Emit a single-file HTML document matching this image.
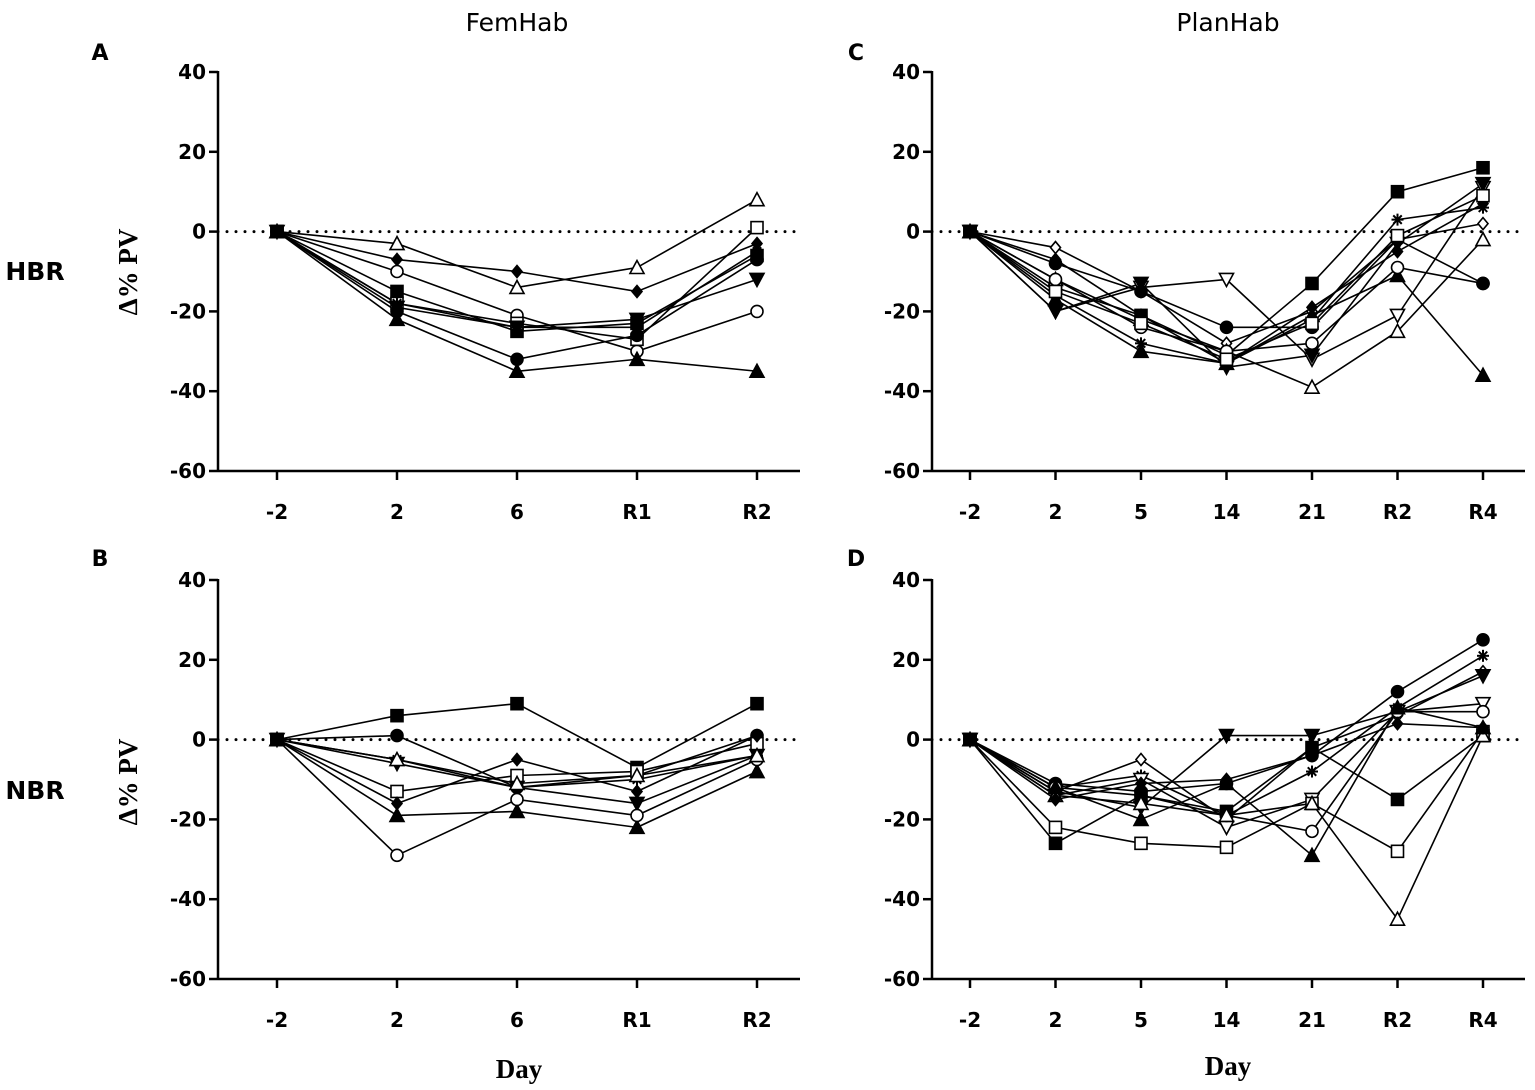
<!DOCTYPE html>
<html><head><meta charset="utf-8">
<style>
html,body{margin:0;padding:0;background:#fff;}
svg{display:block;}
.tick{font-family:"DejaVu Sans","Liberation Sans",sans-serif;font-weight:bold;font-size:20px;fill:#000;}
.ttl{font-family:"DejaVu Sans","Liberation Sans",sans-serif;font-size:25px;fill:#000;}
.lbl{font-family:"DejaVu Sans","Liberation Sans",sans-serif;font-weight:bold;font-size:22px;fill:#000;}
.axt{font-family:"Liberation Serif",serif;font-weight:bold;font-size:27px;fill:#000;}
</style></head>
<body>
<svg id="c" width="1535" height="1090" xmlns="http://www.w3.org/2000/svg">
<text class="ttl" x="517" y="31" text-anchor="middle">FemHab</text>
<text class="ttl" x="1228" y="31" text-anchor="middle">PlanHab</text>
<text class="lbl" x="100" y="60" text-anchor="middle">A</text>
<text class="lbl" x="100" y="566" text-anchor="middle">B</text>
<text class="lbl" x="856" y="60" text-anchor="middle">C</text>
<text class="lbl" x="856" y="566" text-anchor="middle">D</text>
<text class="ttl" x="35" y="280" text-anchor="middle" font-weight="bold">HBR</text>
<text class="ttl" x="35" y="799" text-anchor="middle" font-weight="bold">NBR</text>
<text class="axt" transform="translate(137,272) rotate(-90)" text-anchor="middle">Δ% PV</text>
<text class="axt" transform="translate(137,782) rotate(-90)" text-anchor="middle">Δ% PV</text>
<text class="axt" x="519" y="1078" text-anchor="middle">Day</text>
<text class="axt" x="1228" y="1075" text-anchor="middle">Day</text>
</svg>
<script>
const yTicks=[40,20,0,-20,-40,-60];
const femDays=["-2","2","6","R1","R2"];
const planDays=["-2","2","5","14","21","R2","R4"];
const markersA=["otri","fdia","ocir","fsq","osq","fcir","ftri","fdtri","star"];
const valsA=[
[0,-3,-14,-9,8],[0,-7,-10,-15,-3],[0,-10,-21,-30,-20],[0,-15,-25,-23,-6],[0,-18,-23,-27,1],
[0,-20,-32,-26,-7],[0,-22,-35,-32,-35],[0,-19,-24,-22,-12],[0,-18,-24,-24,-5]];
const markersB=["fsq","fcir","star","fdtri","osq","fdia","ftri","ocir","otri"];
const valsB=[
[0,6,9,-7,9],[0,1,-12,-9,1],[0,-5,-12,-10,-4],[0,-6,-12,-16,-4],[0,-13,-9,-8,-1],
[0,-16,-5,-13,1],[0,-19,-18,-22,-8],[0,-29,-15,-19,-5],[0,-5,-11,-9,-4]];
const markersC=["fsq","star","odia","otri","odtri","ftri","ocir","fcir","fdtri","fdia","osq"];
const valsC=[
[0,-14,-21,-31,-13,10,16],[0,-16,-28,-33,-22,3,6],[0,-4,-15,-28,-20,-2,2],[0,-12,-22,-30,-39,-25,-2],
[0,-20,-14,-12,-32,-21,11],[0,-17,-30,-33,-21,-11,-36],[0,-12,-24,-30,-28,-9,-13],[0,-8,-15,-24,-24,-2,-13],
[0,-20,-13,-34,-31,-3,12],[0,-7,-21,-33,-19,-5,7],[0,-15,-23,-32,-23,-1,9]];
const markersD=["fcir","star","odia","fdtri","odtri","ocir","fsq","osq","otri","ftri","fdia"];
const valsD=[
[0,-11,-13,-11,-4,12,25],[0,-12,-9,-19,-8,8,21],[0,-13,-5,-20,-2,6,17],[0,-13,-17,1,1,7,16],
[0,-14,-10,-22,-15,7,9],[0,-12,-14,-19,-23,7,7],[0,-26,-14,-18,-2,-15,1],[0,-22,-26,-27,-16,-28,2],
[0,-14,-16,-19,-16,-45,1],[0,-12,-20,-11,-29,8,3],[0,-15,-11,-10,-4,4,3]];

const svg=document.getElementById('c');
const NS="http://www.w3.org/2000/svg";
function mk(tag,at,parent){const e=document.createElementNS(NS,tag);for(const k in at)e.setAttribute(k,at[k]);(parent||svg).appendChild(e);return e;}

function panel(name,ax,top,xFirst,xStep,xEnd,cats,vals,marks){
  const bottom=top+399;
  const y=v=>top+(40-v)*(399/100);
  const x=i=>xFirst+i*xStep;
  const g=mk('g',{});
  
  
  const zl=mk('line',{x1:ax,x2:xEnd,y1:y(0),y2:y(0),stroke:'#000','stroke-width':3,'stroke-dasharray':'0 9','stroke-linecap':'round'},g);
  
  
  const ya=mk('line',{x1:ax,x2:ax,y1:top-1,y2:bottom+1,stroke:'#000','stroke-width':2.5},g);
  
  
  const xa=mk('line',{x1:ax,x2:xEnd,y1:bottom,y2:bottom,stroke:'#000','stroke-width':2.5},g);
  
  
  yTicks.forEach(t=>{
    mk('line',{x1:ax-9,x2:ax,y1:y(t),y2:y(t),stroke:'#000','stroke-width':2.5},g);
    const tx=mk('text',{x:ax-12,y:y(t)+7,'text-anchor':'end',class:'tick'},g);
    tx.textContent=t;
    
    
  });
  cats.forEach((c,i)=>{
    mk('line',{x1:x(i),x2:x(i),y1:bottom,y2:bottom+9,stroke:'#000','stroke-width':2.5},g);
    const tx=mk('text',{x:x(i),y:bottom+48,'text-anchor':'middle',class:'tick'},g);
    tx.textContent=c;
    
    
  });
  vals.forEach((s,si)=>{
    const pts=s.map((v,i)=>x(i)+','+y(v)).join(' ');
    const pl=mk('polyline',{points:pts,fill:'none',stroke:'#000','stroke-width':1.6},g);
    
    
  });
  vals.forEach((s,si)=>{
    s.forEach((v,i)=>{
      const m=marker(marks[si],x(i),y(v),g);
      
      
    });
  });
  const b=marker('fsq',x(0),y(vals[0][0]),g);
  
  
}
function marker(t,cx,cy,g){
  const r=6,fill=t[0]==='f'?'#000':'#fff',sw=1.6;
  const k=t.slice(1);
  if(t==='star'){
    const e=mk('g',{},g);
    for(let a=0;a<180;a+=45){const rad=a*Math.PI/180;mk('line',{x1:cx-6*Math.cos(rad),y1:cy-6*Math.sin(rad),x2:cx+6*Math.cos(rad),y2:cy+6*Math.sin(rad),stroke:'#000','stroke-width':2},e);}
    return e;
  }
  if(k==='sq')return mk('rect',{x:cx-r,y:cy-r,width:2*r,height:2*r,fill,stroke:'#000','stroke-width':sw},g);
  if(k==='cir')return mk('circle',{cx,cy,r:r,fill,stroke:'#000','stroke-width':sw},g);
  if(k==='tri')return mk('polygon',{points:`${cx},${cy-7} ${cx-7},${cy+6} ${cx+7},${cy+6}`,fill,stroke:'#000','stroke-width':sw},g);
  if(k==='dtri')return mk('polygon',{points:`${cx},${cy+7} ${cx-7},${cy-6} ${cx+7},${cy-6}`,fill,stroke:'#000','stroke-width':sw},g);
  return mk('polygon',{points:`${cx},${cy-6} ${cx+5},${cy} ${cx},${cy+6} ${cx-5},${cy}`,fill,stroke:'#000','stroke-width':sw},g);
}
panel('panel-a-femhab-hbr',218,72,277,120,800,femDays,valsA,markersA);
panel('panel-b-femhab-nbr',218,580,277,120,800,femDays,valsB,markersB);
panel('panel-c-planhab-hbr',932,72,970,85.5,1525,planDays,valsC,markersC);
panel('panel-d-planhab-nbr',932,580,970,85.5,1525,planDays,valsD,markersD);
</script>
</body></html>
